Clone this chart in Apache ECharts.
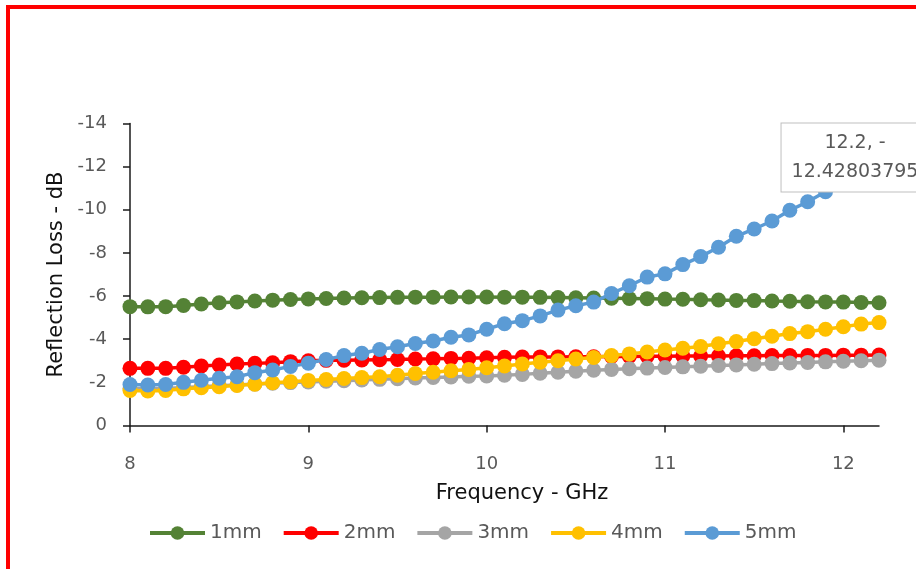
<!DOCTYPE html>
<html>
<head>
<meta charset="utf-8">
<script src="https://cdn.jsdelivr.net/npm/echarts@6/dist/echarts.min.js"></script>
<style>
  html, body { margin: 0; padding: 0; background: #ffffff; }
  #chart { width: 916px; height: 569px; }
</style>
</head>
<body>
<div id="chart"></div>
<script>
// Frequency sweep, GHz
const freqGHz = [8.0, 8.1, 8.2, 8.3, 8.4, 8.5, 8.6, 8.7, 8.8, 8.9,
                 9.0, 9.1, 9.2, 9.3, 9.4, 9.5, 9.6, 9.7, 9.8, 9.9,
                 10.0, 10.1, 10.2, 10.3, 10.4, 10.5, 10.6, 10.7, 10.8, 10.9,
                 11.0, 11.1, 11.2, 11.3, 11.4, 11.5, 11.6, 11.7, 11.8, 11.9,
                 12.0, 12.1, 12.2];

// Reflection loss (dB) for each absorber thickness
const loss1mm = [-5.51, -5.50, -5.51, -5.56, -5.63, -5.69, -5.73, -5.77, -5.81, -5.84,
                 -5.87, -5.89, -5.91, -5.92, -5.93, -5.94, -5.95, -5.95, -5.96, -5.96,
                 -5.96, -5.95, -5.95, -5.94, -5.93, -5.92, -5.91, -5.90, -5.89, -5.88,
                 -5.86, -5.85, -5.83, -5.82, -5.80, -5.79, -5.77, -5.76, -5.74, -5.73,
                 -5.72, -5.70, -5.69];
const loss2mm = [-2.65, -2.65, -2.65, -2.70, -2.76, -2.80, -2.85, -2.88, -2.91, -2.96,
                 -3.00, -3.02, -3.03, -3.04, -3.05, -3.06, -3.08, -3.09, -3.11, -3.12,
                 -3.14, -3.16, -3.17, -3.18, -3.18, -3.19, -3.19, -3.20, -3.20, -3.21,
                 -3.21, -3.22, -3.22, -3.22, -3.23, -3.23, -3.24, -3.24, -3.25, -3.25,
                 -3.26, -3.26, -3.27];
const loss3mm = [-1.72, -1.70, -1.72, -1.76, -1.80, -1.84, -1.88, -1.92, -1.96, -1.99,
                 -2.02, -2.05, -2.08, -2.11, -2.14, -2.17, -2.20, -2.23, -2.25, -2.28,
                 -2.30, -2.33, -2.37, -2.42, -2.47, -2.52, -2.56, -2.60, -2.63, -2.66,
                 -2.69, -2.72, -2.75, -2.78, -2.81, -2.84, -2.87, -2.90, -2.92, -2.95,
                 -2.98, -3.00, -3.03];
const loss4mm = [-1.62, -1.60, -1.62, -1.70, -1.75, -1.80, -1.86, -1.91, -1.98, -2.03,
                 -2.09, -2.13, -2.18, -2.22, -2.26, -2.33, -2.41, -2.47, -2.54, -2.60,
                 -2.68, -2.76, -2.85, -2.93, -3.00, -3.08, -3.15, -3.24, -3.32, -3.41,
                 -3.50, -3.58, -3.66, -3.79, -3.89, -4.02, -4.14, -4.26, -4.35, -4.46,
                 -4.58, -4.70, -4.77];
const loss5mm = [-1.90, -1.88, -1.90, -2.00, -2.10, -2.19, -2.26, -2.45, -2.57, -2.74,
                 -2.89, -3.06, -3.24, -3.35, -3.52, -3.65, -3.80, -3.92, -4.09, -4.20,
                 -4.46, -4.72, -4.86, -5.08, -5.35, -5.55, -5.72, -6.12, -6.48, -6.88,
                 -7.03, -7.46, -7.83, -8.26, -8.77, -9.11, -9.48, -9.98, -10.37, -10.84,
                 -11.30, -11.70, -12.42803795];

const seriesNames = ['1mm', '2mm', '3mm', '4mm', '5mm'];
const seriesColors = ['#548235', '#FF0000', '#A5A5A5', '#FFC000', '#5B9BD5'];
const xTickValues = [8, 9, 10, 11, 12];

const FONT = 'DejaVu Sans';
const allLoss = [loss1mm, loss2mm, loss3mm, loss4mm, loss5mm];

// Point whose coordinates are called out in a label box
const calloutSeries = 4;
const calloutIndex = freqGHz.length - 1;

function buildData(k) {
  return freqGHz.map((f, i) => {
    const v = allLoss[k][i];
    if (k === calloutSeries && i === calloutIndex) {
      return {
        value: [f, v],
        label: {
          show: true,
          position: 'inside',
          offset: [-24, 0],
          formatter: () => f.toFixed(1) + ', -\n' + String(Math.abs(v)),
          fontFamily: FONT,
          fontSize: 19,
          lineHeight: 29,
          color: '#595959',
          align: 'center',
          backgroundColor: '#ffffff',
          borderColor: '#BFBFBF',
          borderWidth: 1,
          padding: [5, 10, 5, 10]
        }
      };
    }
    return [f, v];
  });
}

const series = seriesNames.map((name, k) => ({
  name: name,
  type: 'line',
  symbol: 'circle',
  symbolSize: 15,
  showAllSymbol: true,
  color: seriesColors[k],
  lineStyle: { width: 3.5, color: seriesColors[k] },
  itemStyle: { color: seriesColors[k] },
  emphasis: { disabled: true },
  z: 2 + k,
  data: buildData(k)
}));

const chart = echarts.init(document.getElementById('chart'), null, { renderer: 'canvas' });
chart.setOption({
  animation: false,
  backgroundColor: '#ffffff',
  textStyle: { fontFamily: FONT },
  graphic: [{
    type: 'rect',
    shape: { x: 8, y: 7, width: 1000, height: 1000 },
    style: { fill: 'none', stroke: '#FF0000', lineWidth: 4 },
    silent: true,
    z: 100
  }],
  grid: { left: 130, right: 37, top: 123.5, bottom: 143.5, containLabel: false },
  xAxis: {
    type: 'value',
    min: 8,
    max: 12.2,
    interval: 1,
    name: 'Frequency - GHz',
    nameLocation: 'middle',
    nameGap: 58,
    nameTextStyle: { fontFamily: FONT, fontSize: 21, color: '#111111', padding: [0, 0, 0, 35] },
    axisLine: { show: true, lineStyle: { color: '#1a1a1a', width: 1.5 } },
    axisTick: { show: true, inside: false, length: 7, customValues: xTickValues, lineStyle: { color: '#1a1a1a', width: 1.5 } },
    axisLabel: { customValues: xTickValues, margin: 30, fontFamily: FONT, fontSize: 18, color: '#595959' },
    splitLine: { show: false }
  },
  yAxis: {
    type: 'value',
    min: -14,
    max: 0,
    interval: 2,
    inverse: true,
    name: 'Reflection Loss - dB',
    nameLocation: 'middle',
    nameRotate: 90,
    nameGap: 62,
    nameTextStyle: { fontFamily: FONT, fontSize: 21, color: '#111111' },
    axisLine: { show: true, lineStyle: { color: '#1a1a1a', width: 1.5 } },
    axisTick: { show: true, inside: false, length: 7, lineStyle: { color: '#1a1a1a', width: 1.5 } },
    axisLabel: { margin: 23, fontFamily: FONT, fontSize: 18, color: '#595959' },
    splitLine: { show: false }
  },
  legend: {
    data: seriesNames,
    left: 143,
    top: 518,
    itemWidth: 55,
    itemHeight: 17,
    itemGap: 20,
    lineStyle: { width: 4 },
    textStyle: { fontFamily: FONT, fontSize: 20, color: '#595959' }
  },
  series: series
});
</script>
</body>
</html>
